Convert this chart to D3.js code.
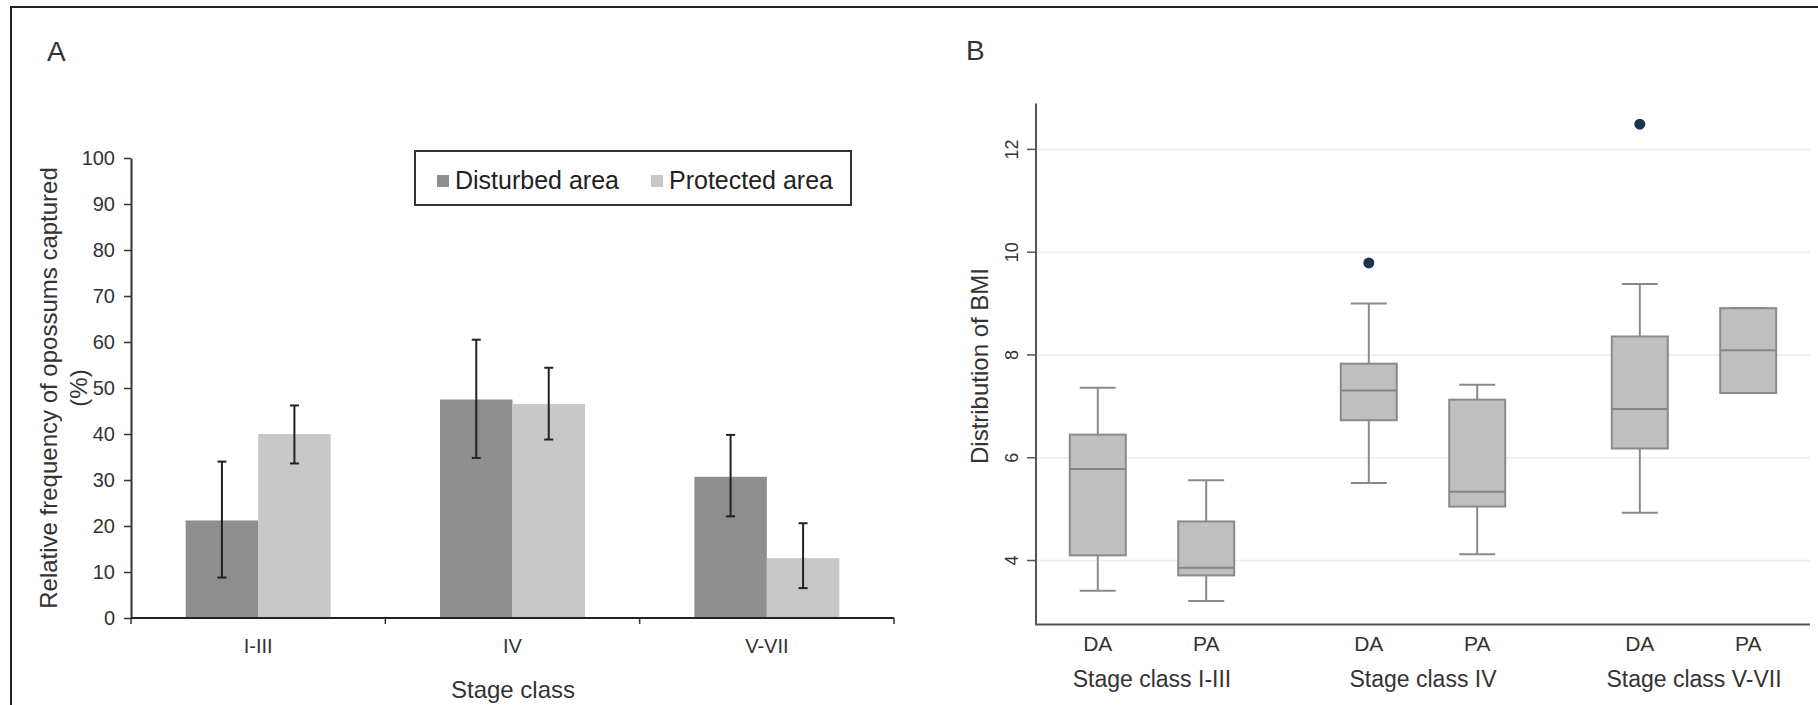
<!DOCTYPE html>
<meta charset="utf-8">
<head>
<style>
  body { margin: 0; background: #fff; }
  svg { display: block; font-family: "Liberation Sans", Arial, sans-serif; }
  .txt { fill: #333; }
</style>
</head>
<body>
<svg id="chart" width="1818" height="705"></svg>
<script src="https://cdn.jsdelivr.net/npm/d3@7"></script>
<script>
// ---- panel A data ----
var stages = ["I-III", "IV", "V-VII"];
var areas = ["Disturbed area", "Protected area"];
var disturbed = [21.2, 47.5, 30.7];
var protectedArea = [40.0, 46.5, 13.0];
var disturbedErr = [[8.8, 34.0], [34.8, 60.5], [22.1, 39.8]];
var protectedErr = [[33.6, 46.2], [38.8, 54.4], [6.5, 20.6]];
var yTicksA = [0, 10, 20, 30, 40, 50, 60, 70, 80, 90, 100];

// ---- panel B data (min, q1, median, q3, max) ----
var groups = ["Stage class I-III", "Stage class IV", "Stage class V-VII"];
var subgroups = ["DA", "PA"];
var boxDA = [[3.41, 4.10, 5.78, 6.45, 7.36], [5.51, 6.73, 7.31, 7.83, 9.00], [4.93, 6.18, 6.95, 8.36, 9.38]];
var boxPA = [[3.21, 3.71, 3.86, 4.76, 5.56], [4.12, 5.05, 5.34, 7.13, 7.42], [7.26, 7.26, 8.09, 8.91, 8.91]];
var outliersDA = [[], [9.79], [12.49]];
var outliersPA = [[], [], []];
var yTicksB = [4, 6, 8, 10, 12];

var svg = d3.select("#chart");

// frame
svg.append("path")
    .attr("d", "M11,705V7H1818")
    .attr("fill", "none")
    .attr("stroke", "#222")
    .attr("stroke-width", 2);

// ================= Panel A =================
var colA = { "Disturbed area": "#8e8e8e", "Protected area": "#c8c8c8" };

var yA = d3.scaleLinear().domain([0, 100]).range([618, 158]);
var xA = d3.scaleBand().domain(stages).range([131, 894])
    .paddingInner(0.43).paddingOuter(0.215);
var xA1 = d3.scaleBand().domain(areas).range([0, xA.bandwidth()]);

svg.append("text").attr("x", 47).attr("y", 61)
    .attr("font-size", 28).attr("fill", "#333").text("A");

var rowsA = stages.map(function (s, i) {
    return {
        stage: s,
        vals: [
            { key: areas[0], v: disturbed[i], err: disturbedErr[i] },
            { key: areas[1], v: protectedArea[i], err: protectedErr[i] }
        ]
    };
});

var gA = svg.append("g");
var grp = gA.selectAll(".grp").data(rowsA).enter().append("g")
    .attr("transform", function (d) { return "translate(" + xA(d.stage) + ",0)"; });

grp.selectAll("rect").data(function (d) { return d.vals; }).enter().append("rect")
    .attr("x", function (d) { return xA1(d.key); })
    .attr("width", xA1.bandwidth())
    .attr("y", function (d) { return yA(d.v); })
    .attr("height", function (d) { return yA(0) - yA(d.v); })
    .attr("fill", function (d) { return colA[d.key]; });

// error bars
var eb = grp.selectAll(".eb").data(function (d) { return d.vals; }).enter().append("g")
    .attr("stroke", "#222").attr("stroke-width", 2);
var cx = function (d) { return xA1(d.key) + xA1.bandwidth() / 2; };
eb.append("line")
    .attr("x1", cx).attr("x2", cx)
    .attr("y1", function (d) { return yA(d.err[0]); })
    .attr("y2", function (d) { return yA(d.err[1]); });
[0, 1].forEach(function (k) {
    eb.append("line")
        .attr("x1", function (d) { return cx(d) - 4.5; })
        .attr("x2", function (d) { return cx(d) + 4.5; })
        .attr("y1", function (d) { return yA(d.err[k]); })
        .attr("y2", function (d) { return yA(d.err[k]); });
});

// y axis A
var axA = gA.append("g").attr("transform", "translate(131,0)")
    .call(d3.axisLeft(yA).tickValues(yTicksA).tickSize(7).tickPadding(9).tickSizeOuter(0));
axA.select(".domain").attr("stroke", "#333").attr("stroke-width", 2);
axA.selectAll(".tick line").attr("stroke", "#333").attr("stroke-width", 1.5);
axA.selectAll(".tick text").attr("font-size", 20).attr("fill", "#333")
    .attr("font-family", "'Liberation Sans', Arial, sans-serif");

// x axis A
gA.append("line").attr("x1", 131).attr("x2", 894).attr("y1", 618).attr("y2", 618)
    .attr("stroke", "#222").attr("stroke-width", 2);
var bounds = d3.range(stages.length + 1).map(function (i) { return 131 + i * xA.step(); });
gA.selectAll(".bt").data(bounds).enter().append("line")
    .attr("x1", function (d) { return d; }).attr("x2", function (d) { return d; })
    .attr("y1", 618).attr("y2", 624)
    .attr("stroke", "#333").attr("stroke-width", 1.5);
gA.selectAll(".xl").data(stages).enter().append("text")
    .attr("class", "txt")
    .attr("x", function (d) { return xA(d) + xA.bandwidth() / 2; })
    .attr("y", 653).attr("text-anchor", "middle").attr("font-size", 20)
    .text(function (d) { return d; });

gA.append("text").attr("class", "txt")
    .attr("x", 513).attr("y", 698).attr("text-anchor", "middle").attr("font-size", 24)
    .text("Stage class");

gA.append("text").attr("class", "txt")
    .attr("transform", "translate(57,388) rotate(-90)")
    .attr("text-anchor", "middle").attr("font-size", 24)
    .text("Relative frequency of opossums captured");
gA.append("text").attr("class", "txt")
    .attr("transform", "translate(87,388) rotate(-90)")
    .attr("text-anchor", "middle").attr("font-size", 24)
    .text("(%)");

// legend A
var lg = gA.append("g");
lg.append("rect").attr("x", 415).attr("y", 151).attr("width", 436).attr("height", 54)
    .attr("fill", "#fff").attr("stroke", "#333").attr("stroke-width", 2);
var lgX = [437, 651];
areas.forEach(function (a, i) {
    lg.append("rect").attr("x", lgX[i]).attr("y", 175).attr("width", 12).attr("height", 12)
        .attr("fill", colA[a]);
    lg.append("text").attr("x", lgX[i] + 18).attr("y", 189)
        .attr("font-size", 25).attr("fill", "#222").text(a);
});

// ================= Panel B =================
var gB = svg.append("g");
var yB = d3.scaleLinear().domain([2.755, 12.893]).range([624.5, 103.5]);
var xB0 = d3.scaleBand().domain(groups).range([1036, 1810])
    .paddingInner(0.2).paddingOuter(0.028);
var xB1 = d3.scalePoint().domain(subgroups).range([0, xB0.bandwidth()]).padding(0.5);
var boxW = 56, capW = 36;

gB.append("text").attr("x", 966).attr("y", 60)
    .attr("font-size", 28).attr("fill", "#333").text("B");

// gridlines
gB.selectAll(".grid").data(yTicksB).enter().append("line")
    .attr("x1", 1037).attr("x2", 1810)
    .attr("y1", function (d) { return yB(d); }).attr("y2", function (d) { return yB(d); })
    .attr("stroke", "#ececec").attr("stroke-width", 1.5);

var boxes = [];
groups.forEach(function (g, i) {
    boxes.push({ g: g, s: "DA", st: boxDA[i], out: outliersDA[i] });
    boxes.push({ g: g, s: "PA", st: boxPA[i], out: outliersPA[i] });
});
var bx = function (d) { return xB0(d.g) + xB1(d.s); };

var bg = gB.selectAll(".box").data(boxes).enter().append("g")
    .attr("transform", function (d) { return "translate(" + bx(d) + ",0)"; });
bg.append("line").attr("x1", 0).attr("x2", 0)
    .attr("y1", function (d) { return yB(d.st[0]); }).attr("y2", function (d) { return yB(d.st[4]); })
    .attr("stroke", "#8a8a8a").attr("stroke-width", 2);
[0, 4].forEach(function (k) {
    bg.append("line").attr("x1", -capW / 2).attr("x2", capW / 2)
        .attr("y1", function (d) { return yB(d.st[k]); }).attr("y2", function (d) { return yB(d.st[k]); })
        .attr("stroke", "#8a8a8a").attr("stroke-width", 2);
});
bg.append("rect").attr("x", -boxW / 2).attr("width", boxW)
    .attr("y", function (d) { return yB(d.st[3]); })
    .attr("height", function (d) { return yB(d.st[1]) - yB(d.st[3]); })
    .attr("fill", "#bfbfbf").attr("stroke", "#8a8a8a").attr("stroke-width", 2);
bg.append("line").attr("x1", -boxW / 2).attr("x2", boxW / 2)
    .attr("y1", function (d) { return yB(d.st[2]); }).attr("y2", function (d) { return yB(d.st[2]); })
    .attr("stroke", "#858585").attr("stroke-width", 2);
bg.selectAll("circle").data(function (d) { return d.out; }).enter().append("circle")
    .attr("cx", 0).attr("cy", function (d) { return yB(d); }).attr("r", 5.5)
    .attr("fill", "#1b3553");

// axes B
gB.append("path").attr("d", "M1036,103.5V624.5H1810")
    .attr("fill", "none").attr("stroke", "#555").attr("stroke-width", 2);
gB.selectAll(".ytB").data(yTicksB).enter().append("line")
    .attr("x1", 1027).attr("x2", 1036)
    .attr("y1", function (d) { return yB(d); }).attr("y2", function (d) { return yB(d); })
    .attr("stroke", "#555").attr("stroke-width", 1.5);
gB.selectAll(".ylB").data(yTicksB).enter().append("text").attr("class", "txt")
    .attr("transform", function (d) { return "translate(1018," + yB(d) + ") rotate(-90)"; })
    .attr("text-anchor", "middle").attr("font-size", 18)
    .text(function (d) { return d; });

gB.append("text").attr("class", "txt")
    .attr("transform", "translate(988,366) rotate(-90)")
    .attr("text-anchor", "middle").attr("font-size", 24)
    .text("Distribution of BMI");

gB.selectAll(".sl").data(boxes).enter().append("text").attr("class", "txt")
    .attr("x", bx).attr("y", 651).attr("text-anchor", "middle").attr("font-size", 21)
    .text(function (d) { return d.s; });
gB.selectAll(".gl").data(groups).enter().append("text").attr("class", "txt")
    .attr("x", function (d) { return xB0(d) + xB0.bandwidth() / 2; })
    .attr("y", 687).attr("text-anchor", "middle").attr("font-size", 23)
    .text(function (d) { return d; });
</script>
</body>
